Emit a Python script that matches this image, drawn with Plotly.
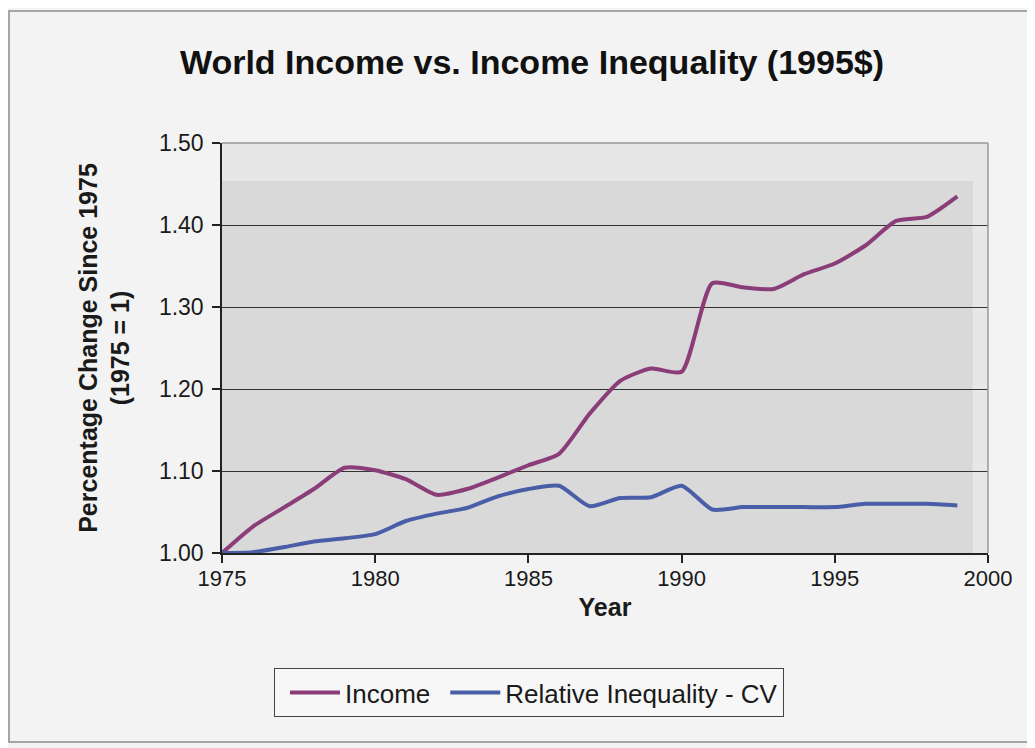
import plotly.graph_objects as go

years = list(range(1975, 2000))
income = [1.000, 1.032, 1.055, 1.078, 1.104, 1.101, 1.090, 1.071, 1.078, 1.092,
          1.107, 1.121, 1.170, 1.210, 1.225, 1.221, 1.329, 1.324, 1.322, 1.340,
          1.353, 1.375, 1.405, 1.410, 1.435]
inequality = [1.000, 1.001, 1.007, 1.014, 1.018, 1.023, 1.039, 1.048, 1.055, 1.069,
              1.078, 1.082, 1.057, 1.067, 1.068, 1.082, 1.053, 1.056, 1.056, 1.056,
              1.056, 1.060, 1.060, 1.060, 1.058]
x_ticks = [1975, 1980, 1985, 1990, 1995, 2000]
y_ticks = [1.0, 1.1, 1.2, 1.3, 1.4, 1.5]

FONT = "Arial, Liberation Sans, sans-serif"
OFF = 8  # page body margin
W, H = 1035 - OFF, 748 - OFF
L, T = 222 - OFF, 143 - OFF
pw, ph = 766, 410
R = W - L - pw
B = H - T - ph

def px(page_x):
    return (page_x - OFF - L) / pw

def py(page_y):
    return (T + ph - (page_y - OFF)) / ph

fig = go.Figure()
fig.add_trace(go.Scatter(x=years, y=income, mode="lines", name="Income",
                         line=dict(color="#8a3d78", width=4, shape="spline", smoothing=0.6)))
fig.add_trace(go.Scatter(x=years, y=inequality, mode="lines", name="Relative Inequality - CV",
                         line=dict(color="#4a5ea8", width=4, shape="spline", smoothing=0.6)))

shapes = [
    dict(type="rect", xref="x", yref="y", x0=1975, x1=1999.5, y0=1.0, y1=1.4537,
         fillcolor="#d9d9d9", line=dict(width=0), layer="below"),
    dict(type="rect", xref="paper", yref="paper", x0=px(9), x1=px(1031), y0=py(742), y1=py(11),
         line=dict(color="#8c8c8c", width=1.5), fillcolor="rgba(0,0,0,0)"),
    dict(type="line", xref="paper", yref="paper", x0=0, x1=1, y0=1, y1=1,
         line=dict(color="#9a9a9a", width=1.5)),
    dict(type="line", xref="paper", yref="paper", x0=1, x1=1, y0=0, y1=1,
         line=dict(color="#9a9a9a", width=1.5)),
]

fig.update_layout(
    width=W, height=H,
    margin=dict(l=L, r=R, t=T, b=B, autoexpand=False),
    paper_bgcolor="#f3f3f3",
    plot_bgcolor="#e7e7e7",
    font=dict(family=FONT, size=22, color="#1a1a1a"),
    title=dict(text="<b>World Income vs. Income Inequality (1995$)</b>",
               xref="container", x=(532 - OFF) / W, xanchor="center",
               yref="container", y=1 - (62 - OFF) / H, yanchor="middle",
               font=dict(family=FONT, size=34, color="#111111")),
    shapes=shapes,
    showlegend=True,
    legend=dict(orientation="h", x=px(529), xanchor="center", y=py(668), yanchor="top",
                bgcolor="#f7f7f7", bordercolor="#444444", borderwidth=1,
                font=dict(family=FONT, size=26, color="#1a1a1a"),
                itemwidth=50, tracegroupgap=0, indentation=10),
)

fig.update_xaxes(
    range=[1975, 2000], tickvals=x_ticks, ticktext=[str(v) for v in x_ticks],
    showgrid=False, zeroline=False, showline=True, linecolor="#222222", linewidth=1.5,
    ticks="outside", ticklen=8, tickcolor="#222222", tickwidth=1.5,
    ticklabelstandoff=-3,
    tickfont=dict(family=FONT, size=22, color="#1a1a1a"),
    title=dict(text="<b>Year</b>", standoff=8, font=dict(family=FONT, size=25, color="#1a1a1a")),
)
fig.update_yaxes(
    range=[1.0, 1.5], tickvals=y_ticks, ticktext=[f"{v:.2f}" for v in y_ticks],
    showgrid=True, gridcolor="#333333", gridwidth=1, zeroline=False,
    showline=True, linecolor="#222222", linewidth=1.5,
    ticks="outside", ticklen=8, tickcolor="#222222", tickwidth=1.5,
    ticklabelstandoff=4,
    tickfont=dict(family=FONT, size=23, color="#1a1a1a"),
    title=dict(text="<b>Percentage Change Since 1975<br>(1975 = 1)</b>", standoff=22,
               font=dict(family=FONT, size=25, color="#1a1a1a")),
)

fig.write_html("out.html")
